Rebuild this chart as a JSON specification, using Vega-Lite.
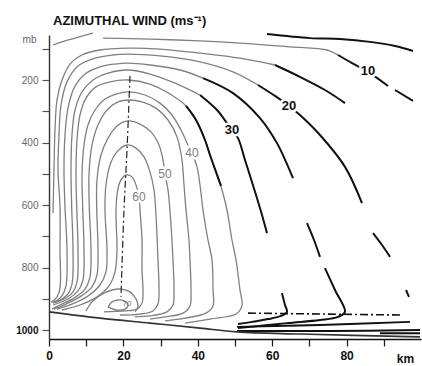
{
  "$schema": "https://vega.github.io/schema/vega-lite/v6.json",
  "width": 372,
  "height": 304,
  "autosize": {"type": "none"},
  "padding": {"left": 49, "top": 35, "right": 1, "bottom": 27},
  "background": "white",
  "config": {
    "view": {"stroke": null},
    "font": "Liberation Sans, Arial, sans-serif"
  },
  "title": {
    "text": "AZIMUTHAL WIND (ms⁻¹)",
    "anchor": "start",
    "frame": "group",
    "dx": 4,
    "offset": 2,
    "fontSize": 13,
    "fontWeight": "bold",
    "color": "#111111",
    "font": "Liberation Sans, Arial, sans-serif"
  },
  "datasets": {
    "core": [
      {"id": "c60", "n": 0, "r": 3.49, "p": 936}, {"id": "c60", "n": 1, "r": 8.33, "p": 920}, {"id": "c60", "n": 2, "r": 12.9, "p": 894}, {"id": "c60", "n": 3, "r": 16.13, "p": 859}, {"id": "c60", "n": 4, "r": 17.74, "p": 814}, {"id": "c60", "n": 5, "r": 18.28, "p": 744}, {"id": "c60", "n": 6, "r": 18.01, "p": 632}, {"id": "c60", "n": 7, "r": 18.28, "p": 568}, {"id": "c60", "n": 8, "r": 19.09, "p": 526}, {"id": "c60", "n": 9, "r": 20.7, "p": 504}, {"id": "c60", "n": 10, "r": 22.31, "p": 510}, {"id": "c60", "n": 11, "r": 23.39, "p": 536}, {"id": "c60", "n": 12, "r": 24.19, "p": 574}, {"id": "c60", "n": 13, "r": 24.46, "p": 616}, {"id": "c60", "n": 14, "r": 25.0, "p": 712}, {"id": "c60", "n": 15, "r": 25.0, "p": 808}, {"id": "c60", "n": 16, "r": 25.27, "p": 878}, {"id": "c60", "n": 17, "r": 25.0, "p": 914}, {"id": "c60", "n": 18, "r": 23.66, "p": 933}, {"id": "c60", "n": 19, "r": 20.43, "p": 939}, {"id": "c60", "n": 20, "r": 14.78, "p": 942},

      {"id": "c55", "n": 0, "r": 2.15, "p": 933}, {"id": "c55", "n": 1, "r": 6.18, "p": 917}, {"id": "c55", "n": 2, "r": 10.48, "p": 891}, {"id": "c55", "n": 3, "r": 13.71, "p": 856}, {"id": "c55", "n": 4, "r": 15.32, "p": 814}, {"id": "c55", "n": 5, "r": 15.59, "p": 744}, {"id": "c55", "n": 6, "r": 15.05, "p": 616}, {"id": "c55", "n": 7, "r": 15.32, "p": 536}, {"id": "c55", "n": 8, "r": 16.4, "p": 472}, {"id": "c55", "n": 9, "r": 18.28, "p": 430}, {"id": "c55", "n": 10, "r": 20.97, "p": 408}, {"id": "c55", "n": 11, "r": 23.39, "p": 418}, {"id": "c55", "n": 12, "r": 25.54, "p": 446}, {"id": "c55", "n": 13, "r": 27.15, "p": 494}, {"id": "c55", "n": 14, "r": 28.23, "p": 552}, {"id": "c55", "n": 15, "r": 28.76, "p": 632}, {"id": "c55", "n": 16, "r": 29.3, "p": 776}, {"id": "c55", "n": 17, "r": 29.57, "p": 872}, {"id": "c55", "n": 18, "r": 29.3, "p": 917}, {"id": "c55", "n": 19, "r": 27.96, "p": 939}, {"id": "c55", "n": 20, "r": 24.46, "p": 949}, {"id": "c55", "n": 21, "r": 19.09, "p": 952},

      {"id": "c50", "n": 0, "r": 1.34, "p": 933}, {"id": "c50", "n": 1, "r": 4.57, "p": 917}, {"id": "c50", "n": 2, "r": 8.33, "p": 894}, {"id": "c50", "n": 3, "r": 11.56, "p": 862}, {"id": "c50", "n": 4, "r": 12.9, "p": 824}, {"id": "c50", "n": 5, "r": 13.17, "p": 744}, {"id": "c50", "n": 6, "r": 12.82, "p": 606}, {"id": "c50", "n": 7, "r": 12.9, "p": 520}, {"id": "c50", "n": 8, "r": 13.98, "p": 440}, {"id": "c50", "n": 9, "r": 15.86, "p": 386}, {"id": "c50", "n": 10, "r": 18.28, "p": 347}, {"id": "c50", "n": 11, "r": 21.24, "p": 331}, {"id": "c50", "n": 12, "r": 24.46, "p": 341}, {"id": "c50", "n": 13, "r": 27.42, "p": 366}, {"id": "c50", "n": 14, "r": 29.57, "p": 408}, {"id": "c50", "n": 15, "r": 30.65, "p": 456}, {"id": "c50", "n": 16, "r": 31.18, "p": 501}, {"id": "c50", "n": 17, "r": 31.99, "p": 552}, {"id": "c50", "n": 18, "r": 32.8, "p": 664}, {"id": "c50", "n": 19, "r": 33.33, "p": 776}, {"id": "c50", "n": 20, "r": 33.6, "p": 872}, {"id": "c50", "n": 21, "r": 33.33, "p": 920}, {"id": "c50", "n": 22, "r": 31.72, "p": 942}, {"id": "c50", "n": 23, "r": 27.15, "p": 955}, {"id": "c50", "n": 24, "r": 23.12, "p": 958},

      {"id": "c45", "n": 0, "r": 0.81, "p": 933}, {"id": "c45", "n": 1, "r": 2.96, "p": 920}, {"id": "c45", "n": 2, "r": 6.72, "p": 898}, {"id": "c45", "n": 3, "r": 9.68, "p": 869}, {"id": "c45", "n": 4, "r": 11.02, "p": 830}, {"id": "c45", "n": 5, "r": 11.29, "p": 744}, {"id": "c45", "n": 6, "r": 10.83, "p": 606}, {"id": "c45", "n": 7, "r": 10.75, "p": 504}, {"id": "c45", "n": 8, "r": 11.56, "p": 408}, {"id": "c45", "n": 9, "r": 13.17, "p": 344}, {"id": "c45", "n": 10, "r": 15.59, "p": 296}, {"id": "c45", "n": 11, "r": 18.55, "p": 270}, {"id": "c45", "n": 12, "r": 21.51, "p": 264}, {"id": "c45", "n": 13, "r": 25.0, "p": 270}, {"id": "c45", "n": 14, "r": 28.76, "p": 290}, {"id": "c45", "n": 15, "r": 31.99, "p": 328}, {"id": "c45", "n": 16, "r": 34.41, "p": 382}, {"id": "c45", "n": 17, "r": 35.75, "p": 456}, {"id": "c45", "n": 18, "r": 36.29, "p": 536}, {"id": "c45", "n": 19, "r": 36.83, "p": 616}, {"id": "c45", "n": 20, "r": 37.63, "p": 712}, {"id": "c45", "n": 21, "r": 37.9, "p": 776}, {"id": "c45", "n": 22, "r": 38.17, "p": 872}, {"id": "c45", "n": 23, "r": 37.9, "p": 923}, {"id": "c45", "n": 24, "r": 36.02, "p": 946}, {"id": "c45", "n": 25, "r": 31.18, "p": 958}, {"id": "c45", "n": 26, "r": 27.15, "p": 965},

      {"id": "c40", "n": 0, "r": 1.08, "p": 920}, {"id": "c40", "n": 1, "r": 5.11, "p": 901}, {"id": "c40", "n": 2, "r": 7.8, "p": 875}, {"id": "c40", "n": 3, "r": 9.14, "p": 840}, {"id": "c40", "n": 4, "r": 9.41, "p": 744}, {"id": "c40", "n": 5, "r": 9.06, "p": 606}, {"id": "c40", "n": 6, "r": 8.87, "p": 504}, {"id": "c40", "n": 7, "r": 9.41, "p": 408}, {"id": "c40", "n": 8, "r": 10.48, "p": 344}, {"id": "c40", "n": 9, "r": 12.37, "p": 296}, {"id": "c40", "n": 10, "r": 15.05, "p": 261}, {"id": "c40", "n": 11, "r": 18.01, "p": 245}, {"id": "c40", "n": 12, "r": 21.24, "p": 238}, {"id": "c40", "n": 13, "r": 25.81, "p": 248}, {"id": "c40", "n": 14, "r": 29.84, "p": 274}, {"id": "c40", "n": 15, "r": 33.06, "p": 312}, {"id": "c40", "n": 16, "r": 35.48, "p": 360}, {"id": "c40", "n": 17, "r": 37.37, "p": 408}, {"id": "c40", "n": 18, "r": 38.44, "p": 434}, {"id": "c40", "n": 19, "r": 39.78, "p": 478}, {"id": "c40", "n": 20, "r": 40.59, "p": 536}, {"id": "c40", "n": 21, "r": 41.4, "p": 616}, {"id": "c40", "n": 22, "r": 42.74, "p": 712}, {"id": "c40", "n": 23, "r": 43.82, "p": 776}, {"id": "c40", "n": 24, "r": 44.09, "p": 872}, {"id": "c40", "n": 25, "r": 44.09, "p": 923}, {"id": "c40", "n": 26, "r": 42.2, "p": 946}, {"id": "c40", "n": 27, "r": 36.56, "p": 962}, {"id": "c40", "n": 28, "r": 31.18, "p": 971},

      {"id": "c35", "n": 0, "r": 1.08, "p": 914}, {"id": "c35", "n": 1, "r": 3.49, "p": 904}, {"id": "c35", "n": 2, "r": 6.18, "p": 882}, {"id": "c35", "n": 3, "r": 7.53, "p": 846}, {"id": "c35", "n": 4, "r": 7.8, "p": 744}, {"id": "c35", "n": 5, "r": 7.45, "p": 606}, {"id": "c35", "n": 6, "r": 7.26, "p": 504}, {"id": "c35", "n": 7, "r": 7.53, "p": 392}, {"id": "c35", "n": 8, "r": 8.33, "p": 312}, {"id": "c35", "n": 9, "r": 9.95, "p": 258}, {"id": "c35", "n": 10, "r": 12.63, "p": 222}, {"id": "c35", "n": 11, "r": 16.4, "p": 206}, {"id": "c35", "n": 12, "r": 21.24, "p": 200}, {"id": "c35", "n": 13, "r": 27.15, "p": 213}, {"id": "c35", "n": 14, "r": 32.53, "p": 245}, {"id": "c35", "n": 15, "r": 36.83, "p": 283}, {"id": "c35", "n": 16, "r": 39.52, "p": 328}, {"id": "c35", "n": 17, "r": 41.94, "p": 392}, {"id": "c35", "n": 18, "r": 43.28, "p": 440}, {"id": "c35", "n": 19, "r": 44.89, "p": 494}, {"id": "c35", "n": 20, "r": 46.51, "p": 552}, {"id": "c35", "n": 21, "r": 47.85, "p": 616}, {"id": "c35", "n": 22, "r": 49.19, "p": 712}, {"id": "c35", "n": 23, "r": 50.27, "p": 776}, {"id": "c35", "n": 24, "r": 51.34, "p": 872}, {"id": "c35", "n": 25, "r": 51.88, "p": 923}, {"id": "c35", "n": 26, "r": 50.27, "p": 949}, {"id": "c35", "n": 27, "r": 43.28, "p": 965}, {"id": "c35", "n": 28, "r": 36.56, "p": 978},

      {"id": "c30", "n": 0, "r": 0.54, "p": 910}, {"id": "c30", "n": 1, "r": 2.42, "p": 907}, {"id": "c30", "n": 2, "r": 4.84, "p": 888}, {"id": "c30", "n": 3, "r": 6.18, "p": 853}, {"id": "c30", "n": 4, "r": 6.45, "p": 744}, {"id": "c30", "n": 5, "r": 6.1, "p": 606}, {"id": "c30", "n": 6, "r": 5.91, "p": 488}, {"id": "c30", "n": 7, "r": 6.18, "p": 376}, {"id": "c30", "n": 8, "r": 6.99, "p": 296}, {"id": "c30", "n": 9, "r": 8.87, "p": 238}, {"id": "c30", "n": 10, "r": 11.83, "p": 200}, {"id": "c30", "n": 11, "r": 15.86, "p": 178}, {"id": "c30", "n": 12, "r": 21.24, "p": 168}, {"id": "c30", "n": 13, "r": 27.15, "p": 181}, {"id": "c30", "n": 14, "r": 33.87, "p": 210}, {"id": "c30", "n": 15, "r": 40.59, "p": 248},

      {"id": "c25", "n": 0, "r": 1.61, "p": 910}, {"id": "c25", "n": 1, "r": 3.49, "p": 891}, {"id": "c25", "n": 2, "r": 4.57, "p": 859}, {"id": "c25", "n": 3, "r": 4.84, "p": 744}, {"id": "c25", "n": 4, "r": 4.3, "p": 606}, {"id": "c25", "n": 5, "r": 4.03, "p": 488}, {"id": "c25", "n": 6, "r": 4.3, "p": 376}, {"id": "c25", "n": 7, "r": 5.11, "p": 290}, {"id": "c25", "n": 8, "r": 6.72, "p": 226}, {"id": "c25", "n": 9, "r": 9.68, "p": 181}, {"id": "c25", "n": 10, "r": 13.71, "p": 158}, {"id": "c25", "n": 11, "r": 17.74, "p": 149}, {"id": "c25", "n": 12, "r": 21.24, "p": 146}, {"id": "c25", "n": 13, "r": 27.15, "p": 152}, {"id": "c25", "n": 14, "r": 35.22, "p": 168}, {"id": "c25", "n": 15, "r": 41.4, "p": 194},

      {"id": "c20", "n": 0, "r": 0.81, "p": 910}, {"id": "c20", "n": 1, "r": 2.15, "p": 894}, {"id": "c20", "n": 2, "r": 2.96, "p": 866}, {"id": "c20", "n": 3, "r": 2.96, "p": 744}, {"id": "c20", "n": 4, "r": 2.96, "p": 606}, {"id": "c20", "n": 5, "r": 2.42, "p": 488}, {"id": "c20", "n": 6, "r": 2.69, "p": 376}, {"id": "c20", "n": 7, "r": 3.23, "p": 280}, {"id": "c20", "n": 8, "r": 4.84, "p": 206}, {"id": "c20", "n": 9, "r": 7.8, "p": 155}, {"id": "c20", "n": 10, "r": 12.37, "p": 130}, {"id": "c20", "n": 11, "r": 16.94, "p": 120}, {"id": "c20", "n": 12, "r": 21.24, "p": 117}, {"id": "c20", "n": 13, "r": 29.84, "p": 123}, {"id": "c20", "n": 14, "r": 40.59, "p": 142}, {"id": "c20", "n": 15, "r": 49.46, "p": 174}, {"id": "c20", "n": 16, "r": 56.18, "p": 216},

      {"id": "c15", "n": 0, "r": 1.08, "p": 626}, {"id": "c15", "n": 1, "r": 1.34, "p": 488}, {"id": "c15", "n": 2, "r": 1.61, "p": 360}, {"id": "c15", "n": 3, "r": 2.15, "p": 264}, {"id": "c15", "n": 4, "r": 3.49, "p": 200}, {"id": "c15", "n": 5, "r": 5.65, "p": 149}, {"id": "c15", "n": 6, "r": 8.87, "p": 120}, {"id": "c15", "n": 7, "r": 13.71, "p": 104}, {"id": "c15", "n": 8, "r": 21.24, "p": 98}, {"id": "c15", "n": 9, "r": 29.84, "p": 101}, {"id": "c15", "n": 10, "r": 40.59, "p": 114}, {"id": "c15", "n": 11, "r": 51.34, "p": 130}, {"id": "c15", "n": 12, "r": 60.75, "p": 152},

      {"id": "c10a", "n": 0, "r": 1.08, "p": 88}, {"id": "c10a", "n": 1, "r": 3.49, "p": 78}, {"id": "c10a", "n": 2, "r": 6.99, "p": 66}, {"id": "c10a", "n": 3, "r": 11.83, "p": 50},
      {"id": "c10b", "n": 0, "r": 14.52, "p": 66}, {"id": "c10b", "n": 1, "r": 27.15, "p": 69}, {"id": "c10b", "n": 2, "r": 40.59, "p": 75}, {"id": "c10b", "n": 3, "r": 51.34, "p": 82}, {"id": "c10b", "n": 4, "r": 64.78, "p": 94}, {"id": "c10b", "n": 5, "r": 74.73, "p": 104}, {"id": "c10b", "n": 6, "r": 77.69, "p": 120},

      {"id": "c65", "n": 0, "r": 9.95, "p": 939}, {"id": "c65", "n": 1, "r": 11.56, "p": 910}, {"id": "c65", "n": 2, "r": 14.25, "p": 885}, {"id": "c65", "n": 3, "r": 16.94, "p": 872}, {"id": "c65", "n": 4, "r": 19.35, "p": 869}, {"id": "c65", "n": 5, "r": 21.77, "p": 878}, {"id": "c65", "n": 6, "r": 23.39, "p": 901}, {"id": "c65", "n": 7, "r": 23.92, "p": 926}, {"id": "c65", "n": 8, "r": 23.12, "p": 942},

      {"id": "c70", "n": 0, "r": 15.86, "p": 926}, {"id": "c70", "n": 1, "r": 16.94, "p": 910}, {"id": "c70", "n": 2, "r": 18.55, "p": 904}, {"id": "c70", "n": 3, "r": 20.16, "p": 907}, {"id": "c70", "n": 4, "r": 21.24, "p": 920}, {"id": "c70", "n": 5, "r": 20.43, "p": 933}, {"id": "c70", "n": 6, "r": 18.01, "p": 936}, {"id": "c70", "n": 7, "r": 15.86, "p": 926}
    ],
    "outer": [
      {"id": "o35", "n": 0, "r": 36.83, "p": 283}, {"id": "o35", "n": 1, "r": 39.52, "p": 328}, {"id": "o35", "n": 2, "r": 41.94, "p": 392}, {"id": "o35", "n": 3, "r": 43.28, "p": 440}, {"id": "o35", "n": 4, "r": 44.89, "p": 494}, {"id": "o35", "n": 5, "r": 46.24, "p": 539},
      {"id": "o30a", "n": 0, "r": 40.59, "p": 248}, {"id": "o30a", "n": 1, "r": 45.16, "p": 296}, {"id": "o30a", "n": 2, "r": 47.85, "p": 338}, {"id": "o30a", "n": 3, "r": 49.19, "p": 360}, {"id": "o30a", "n": 4, "r": 50.81, "p": 386}, {"id": "o30a", "n": 5, "r": 52.69, "p": 456}, {"id": "o30a", "n": 6, "r": 55.65, "p": 568}, {"id": "o30a", "n": 7, "r": 57.26, "p": 632}, {"id": "o30a", "n": 8, "r": 58.6, "p": 690},
      {"id": "o30b", "n": 0, "r": 62.63, "p": 882}, {"id": "o30b", "n": 1, "r": 63.44, "p": 920}, {"id": "o30b", "n": 2, "r": 63.98, "p": 942}, {"id": "o30b", "n": 3, "r": 62.37, "p": 955}, {"id": "o30b", "n": 4, "r": 58.87, "p": 965}, {"id": "o30b", "n": 5, "r": 54.57, "p": 974}, {"id": "o30b", "n": 6, "r": 50.81, "p": 981},
      {"id": "o25a", "n": 0, "r": 41.4, "p": 194}, {"id": "o25a", "n": 1, "r": 49.46, "p": 242}, {"id": "o25a", "n": 2, "r": 56.72, "p": 322}, {"id": "o25a", "n": 3, "r": 61.29, "p": 402}, {"id": "o25a", "n": 4, "r": 63.71, "p": 462}, {"id": "o25a", "n": 5, "r": 65.59, "p": 514},
      {"id": "o25b", "n": 0, "r": 69.35, "p": 658}, {"id": "o25b", "n": 1, "r": 71.24, "p": 712}, {"id": "o25b", "n": 2, "r": 72.85, "p": 766},
      {"id": "o25c", "n": 0, "r": 74.19, "p": 802}, {"id": "o25c", "n": 1, "r": 76.88, "p": 872}, {"id": "o25c", "n": 2, "r": 79.57, "p": 942}, {"id": "o25c", "n": 3, "r": 77.69, "p": 958}, {"id": "o25c", "n": 4, "r": 72.85, "p": 968}, {"id": "o25c", "n": 5, "r": 63.98, "p": 978}, {"id": "o25c", "n": 6, "r": 50.81, "p": 994},
      {"id": "o20a", "n": 0, "r": 56.18, "p": 216}, {"id": "o20a", "n": 1, "r": 60.75, "p": 251}, {"id": "o20a", "n": 2, "r": 64.52, "p": 283}, {"id": "o20a", "n": 3, "r": 67.47, "p": 312}, {"id": "o20a", "n": 4, "r": 72.85, "p": 376}, {"id": "o20a", "n": 5, "r": 79.57, "p": 478}, {"id": "o20a", "n": 6, "r": 84.14, "p": 594},
      {"id": "o20b", "n": 0, "r": 87.1, "p": 690}, {"id": "o20b", "n": 1, "r": 89.52, "p": 728}, {"id": "o20b", "n": 2, "r": 91.67, "p": 766},
      {"id": "o20c", "n": 0, "r": 95.97, "p": 872}, {"id": "o20c", "n": 1, "r": 96.77, "p": 894},
      {"id": "o15", "n": 0, "r": 60.75, "p": 152}, {"id": "o15", "n": 1, "r": 67.47, "p": 190}, {"id": "o15", "n": 2, "r": 74.19, "p": 232}, {"id": "o15", "n": 3, "r": 79.57, "p": 274},
      {"id": "o10a", "n": 0, "r": 77.69, "p": 120}, {"id": "o10a", "n": 1, "r": 81.45, "p": 146}, {"id": "o10a", "n": 2, "r": 85.75, "p": 174}, {"id": "o10a", "n": 3, "r": 91.13, "p": 219},
      {"id": "o10b", "n": 0, "r": 93.01, "p": 232}, {"id": "o10b", "n": 1, "r": 97.85, "p": 267},
      {"id": "otop", "n": 0, "r": 58.6, "p": 53}, {"id": "otop", "n": 1, "r": 70.16, "p": 66}, {"id": "otop", "n": 2, "r": 78.23, "p": 69}, {"id": "otop", "n": 3, "r": 86.29, "p": 78}, {"id": "otop", "n": 4, "r": 93.01, "p": 91}, {"id": "otop", "n": 5, "r": 97.85, "p": 107},
      {"id": "obl1", "n": 0, "r": 50.54, "p": 990}, {"id": "obl1", "n": 1, "r": 72.85, "p": 984}, {"id": "obl1", "n": 2, "r": 97.04, "p": 974},
      {"id": "obl2", "n": 0, "r": 50.54, "p": 1003}, {"id": "obl2", "n": 1, "r": 75.54, "p": 1003}, {"id": "obl2", "n": 2, "r": 99.73, "p": 1000},
      {"id": "obl3", "n": 0, "r": 88.98, "p": 1010}, {"id": "obl3", "n": 1, "r": 99.73, "p": 1010}
    ],
    "surface": [
      {"n": 0, "r": 0, "p": 942}, {"n": 1, "r": 13.71, "p": 962}, {"n": 2, "r": 27.15, "p": 978}, {"n": 3, "r": 40.59, "p": 994}, {"n": 4, "r": 50.54, "p": 1006}, {"n": 5, "r": 67.47, "p": 1013}, {"n": 6, "r": 99.73, "p": 1022}
    ],
    "rmw": [
      {"n": 0, "r": 21.77, "p": 187}, {"n": 1, "r": 20.97, "p": 424}, {"n": 2, "r": 20.16, "p": 616}, {"n": 3, "r": 19.35, "p": 894}
    ],
    "bl_top": [
      {"n": 0, "r": 53.49, "p": 946}, {"n": 1, "r": 94.35, "p": 952}
    ],
    "outer_labels": [
      {"t": "10", "r": 85.75, "p": 171}, {"t": "20", "r": 64.52, "p": 283}, {"t": "30", "r": 49.19, "p": 360}
    ],
    "core_labels": [
      {"t": "40", "r": 38.44, "p": 434}, {"t": "50", "r": 31.18, "p": 501}, {"t": "60", "r": 24.19, "p": 574}
    ],
    "core_max_label": [
      {"t": "70", "r": 20.97, "p": 917}
    ]
  },
  "encoding": {
    "x": {
      "field": "r",
      "type": "quantitative",
      "scale": {"domain": [0, 100], "nice": false, "zero": false},
      "axis": {
        "values": [0, 10, 20, 30, 40, 50, 60, 70, 80, 90],
        "labelExpr": "datum.value % 20 == 0 ? '' + datum.value : ''",
        "grid": false,
        "labelFontSize": 12,
        "labelFontWeight": "bold",
        "labelColor": "#111111",
        "labelPadding": 4,
        "labelFlush": false,
        "tickSize": 7,
        "tickWidth": 1.3,
        "tickColor": "#222222",
        "domainColor": "#111111",
        "domainWidth": 1.6,
        "title": "km",
        "titleX": 356,
        "titleY": 23,
        "titleAlign": "center",
        "titleBaseline": "alphabetic",
        "titleFontSize": 12,
        "titleFontWeight": "bold",
        "titleColor": "#111111"
      }
    },
    "y": {
      "field": "p",
      "type": "quantitative",
      "scale": {"domain": [1028.8, 56], "nice": false, "zero": false},
      "axis": {
        "values": [100, 200, 300, 400, 500, 600, 700, 800, 900, 1000],
        "labelExpr": "datum.value % 200 == 0 ? '' + datum.value : ''",
        "grid": false,
        "labelFontSize": 10,
        "labelColor": {"condition": {"test": "datum.value == 1000", "value": "#111111"}, "value": "#666666"},
        "labelFontWeight": {"condition": {"test": "datum.value == 1000", "value": "bold"}, "value": "normal"},
        "labelPadding": 4,
        "tickSize": 7,
        "tickWidth": 1.2,
        "tickColor": "#555555",
        "domainColor": "#333333",
        "domainWidth": 1.4,
        "title": "mb",
        "titleAngle": 0,
        "titleX": -20,
        "titleY": 7,
        "titleAlign": "center",
        "titleBaseline": "alphabetic",
        "titleFontSize": 10,
        "titleFontWeight": "normal",
        "titleColor": "#666666"
      }
    }
  },
  "layer": [
    {
      "data": {"name": "core"},
      "mark": {"type": "line", "color": "#808080", "strokeWidth": 1.3, "interpolate": "catmull-rom", "clip": false},
      "encoding": {"detail": {"field": "id", "type": "nominal"}, "order": {"field": "n", "type": "quantitative"}}
    },
    {
      "data": {"name": "outer"},
      "mark": {"type": "line", "color": "#111111", "strokeWidth": 2, "interpolate": "catmull-rom", "clip": false},
      "encoding": {"detail": {"field": "id", "type": "nominal"}, "order": {"field": "n", "type": "quantitative"}}
    },
    {
      "data": {"name": "surface"},
      "mark": {"type": "line", "color": "#333333", "strokeWidth": 1.6, "interpolate": "catmull-rom", "clip": false},
      "encoding": {"order": {"field": "n", "type": "quantitative"}}
    },
    {
      "data": {"name": "rmw"},
      "mark": {"type": "line", "color": "#222222", "strokeWidth": 1.2, "strokeDash": [7, 3, 2, 3], "interpolate": "catmull-rom", "clip": false},
      "encoding": {"order": {"field": "n", "type": "quantitative"}}
    },
    {
      "data": {"name": "bl_top"},
      "mark": {"type": "line", "color": "#111111", "strokeWidth": 1.6, "strokeDash": [8, 3, 2, 3], "clip": false},
      "encoding": {"order": {"field": "n", "type": "quantitative"}}
    },
    {
      "data": {"name": "outer_labels"},
      "mark": {"type": "text", "fontSize": 13, "fontWeight": "bold", "fill": "white", "stroke": "white", "strokeWidth": 5, "align": "center", "baseline": "middle"},
      "encoding": {"text": {"field": "t"}}
    },
    {
      "data": {"name": "outer_labels"},
      "mark": {"type": "text", "fontSize": 13, "fontWeight": "bold", "color": "#111111", "align": "center", "baseline": "middle"},
      "encoding": {"text": {"field": "t"}}
    },
    {
      "data": {"name": "core_labels"},
      "mark": {"type": "text", "fontSize": 12, "fill": "white", "stroke": "white", "strokeWidth": 5, "align": "center", "baseline": "middle"},
      "encoding": {"text": {"field": "t"}}
    },
    {
      "data": {"name": "core_labels"},
      "mark": {"type": "text", "fontSize": 12, "color": "#808080", "align": "center", "baseline": "middle"},
      "encoding": {"text": {"field": "t"}}
    },
    {
      "data": {"name": "core_max_label"},
      "mark": {"type": "text", "fontSize": 8, "color": "#707070", "align": "center", "baseline": "middle"},
      "encoding": {"text": {"field": "t"}}
    }
  ]
}
